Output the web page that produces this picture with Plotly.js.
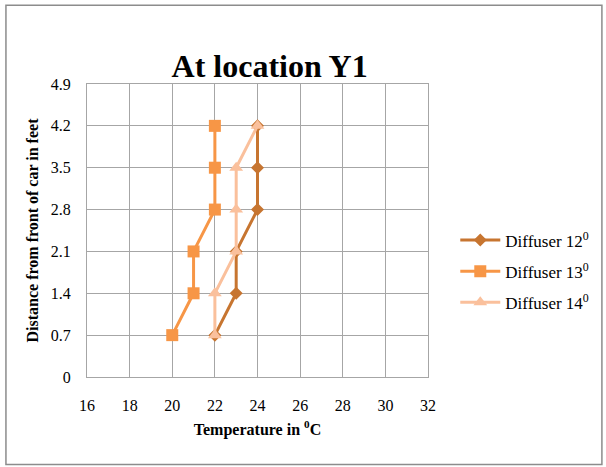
<!DOCTYPE html>
<html>
<head>
<meta charset="utf-8">
<script src="https://cdn.plot.ly/plotly-3.0.1.min.js"></script>
<style>html,body{margin:0;padding:0;background:#fff;}#chart{width:606px;height:467px;}</style>
</head>
<body>
<div id="chart"></div>
<script>
const distance = [0.7, 1.4, 2.1, 2.8, 3.5, 4.2];
const diffuser12 = [22, 23, 23, 24, 24, 24];
const diffuser13 = [20, 21, 21, 22, 22, 22];
const diffuser14 = [22, 22, 23, 23, 23, 24];
const seriesNames = ['Diffuser 12<sup>0</sup>', 'Diffuser 13<sup>0</sup>', 'Diffuser 14<sup>0</sup>'];
const xTicks = [16, 18, 20, 22, 24, 26, 28, 30, 32];
const yTicks = [0, 0.7, 1.4, 2.1, 2.8, 3.5, 4.2, 4.9];

const font = 'Liberation Serif';
const traces = [
  {x: diffuser12, y: distance, name: seriesNames[0], legendgroup: 'a', mode: 'lines+markers',
   line: {color: '#C77530', width: 3}, marker: {symbol: 'diamond', size: 10, color: '#C77530'}},
  {x: diffuser13, y: distance, name: seriesNames[1], legendgroup: 'b', mode: 'lines+markers',
   line: {color: '#F79646', width: 3}, marker: {symbol: 'square', size: 12, color: '#F79646'}},
  {x: diffuser14, y: distance, name: seriesNames[2], legendgroup: 'c', mode: 'lines+markers',
   line: {color: '#FAC09C', width: 3}, marker: {symbol: 'triangle-up', size: 12, color: '#FAC09C'}}
];
const layout = {
  width: 606, height: 467,
  margin: {l: 87, r: 174, t: 84, b: 90},
  paper_bgcolor: '#fff', plot_bgcolor: '#fff',
  font: {family: font, color: '#000', size: 16},
  title: {text: '<b>At location Y1</b>', font: {family: font, size: 32, color: '#000'}, x: 0.445, xanchor: 'center', y: 0.86, yanchor: 'middle'},
  xaxis: {range: [16, 32], tickvals: xTicks, ticktext: xTicks.map(String), showgrid: true, gridcolor: '#a6a6a6', gridwidth: 1,
    zeroline: false, showline: true, linecolor: '#a6a6a6', mirror: true, ticks: '', ticklabelstandoff: 14,
    title: {text: '<b>Temperature in <sup>0</sup>C</b>', font: {family: font, size: 16}, standoff: 10}, tickfont: {family: font, size: 16, color: '#000'}},
  yaxis: {range: [0, 4.9], tickvals: yTicks, ticktext: yTicks.map(v => v === 0 ? '0' : v.toFixed(1)), showgrid: true, gridcolor: '#a6a6a6', gridwidth: 1,
    zeroline: false, showline: true, linecolor: '#a6a6a6', mirror: true, ticks: '', ticklabelstandoff: 12,
    title: {text: '<b>Distance from front of car in feet</b>', font: {family: font, size: 16}, standoff: 8}, tickfont: {family: font, size: 16, color: '#000'}},
  legend: {x: 1.08, y: 0.36, xanchor: 'left', yanchor: 'middle', font: {family: font, size: 17, color: '#000'}, tracegroupgap: 6, itemwidth: 40, bgcolor: 'rgba(0,0,0,0)'},
  shapes: [{type: 'rect', xref: 'paper', yref: 'paper', x0: -0.2377, x1: 1.51, y0: -0.299, y1: 1.2687,
    line: {color: '#8c8c8c', width: 1.5}}],
  showlegend: true
};
Plotly.newPlot('chart', traces, layout, {displayModeBar: false, staticPlot: true});
</script>
</body>
</html>
